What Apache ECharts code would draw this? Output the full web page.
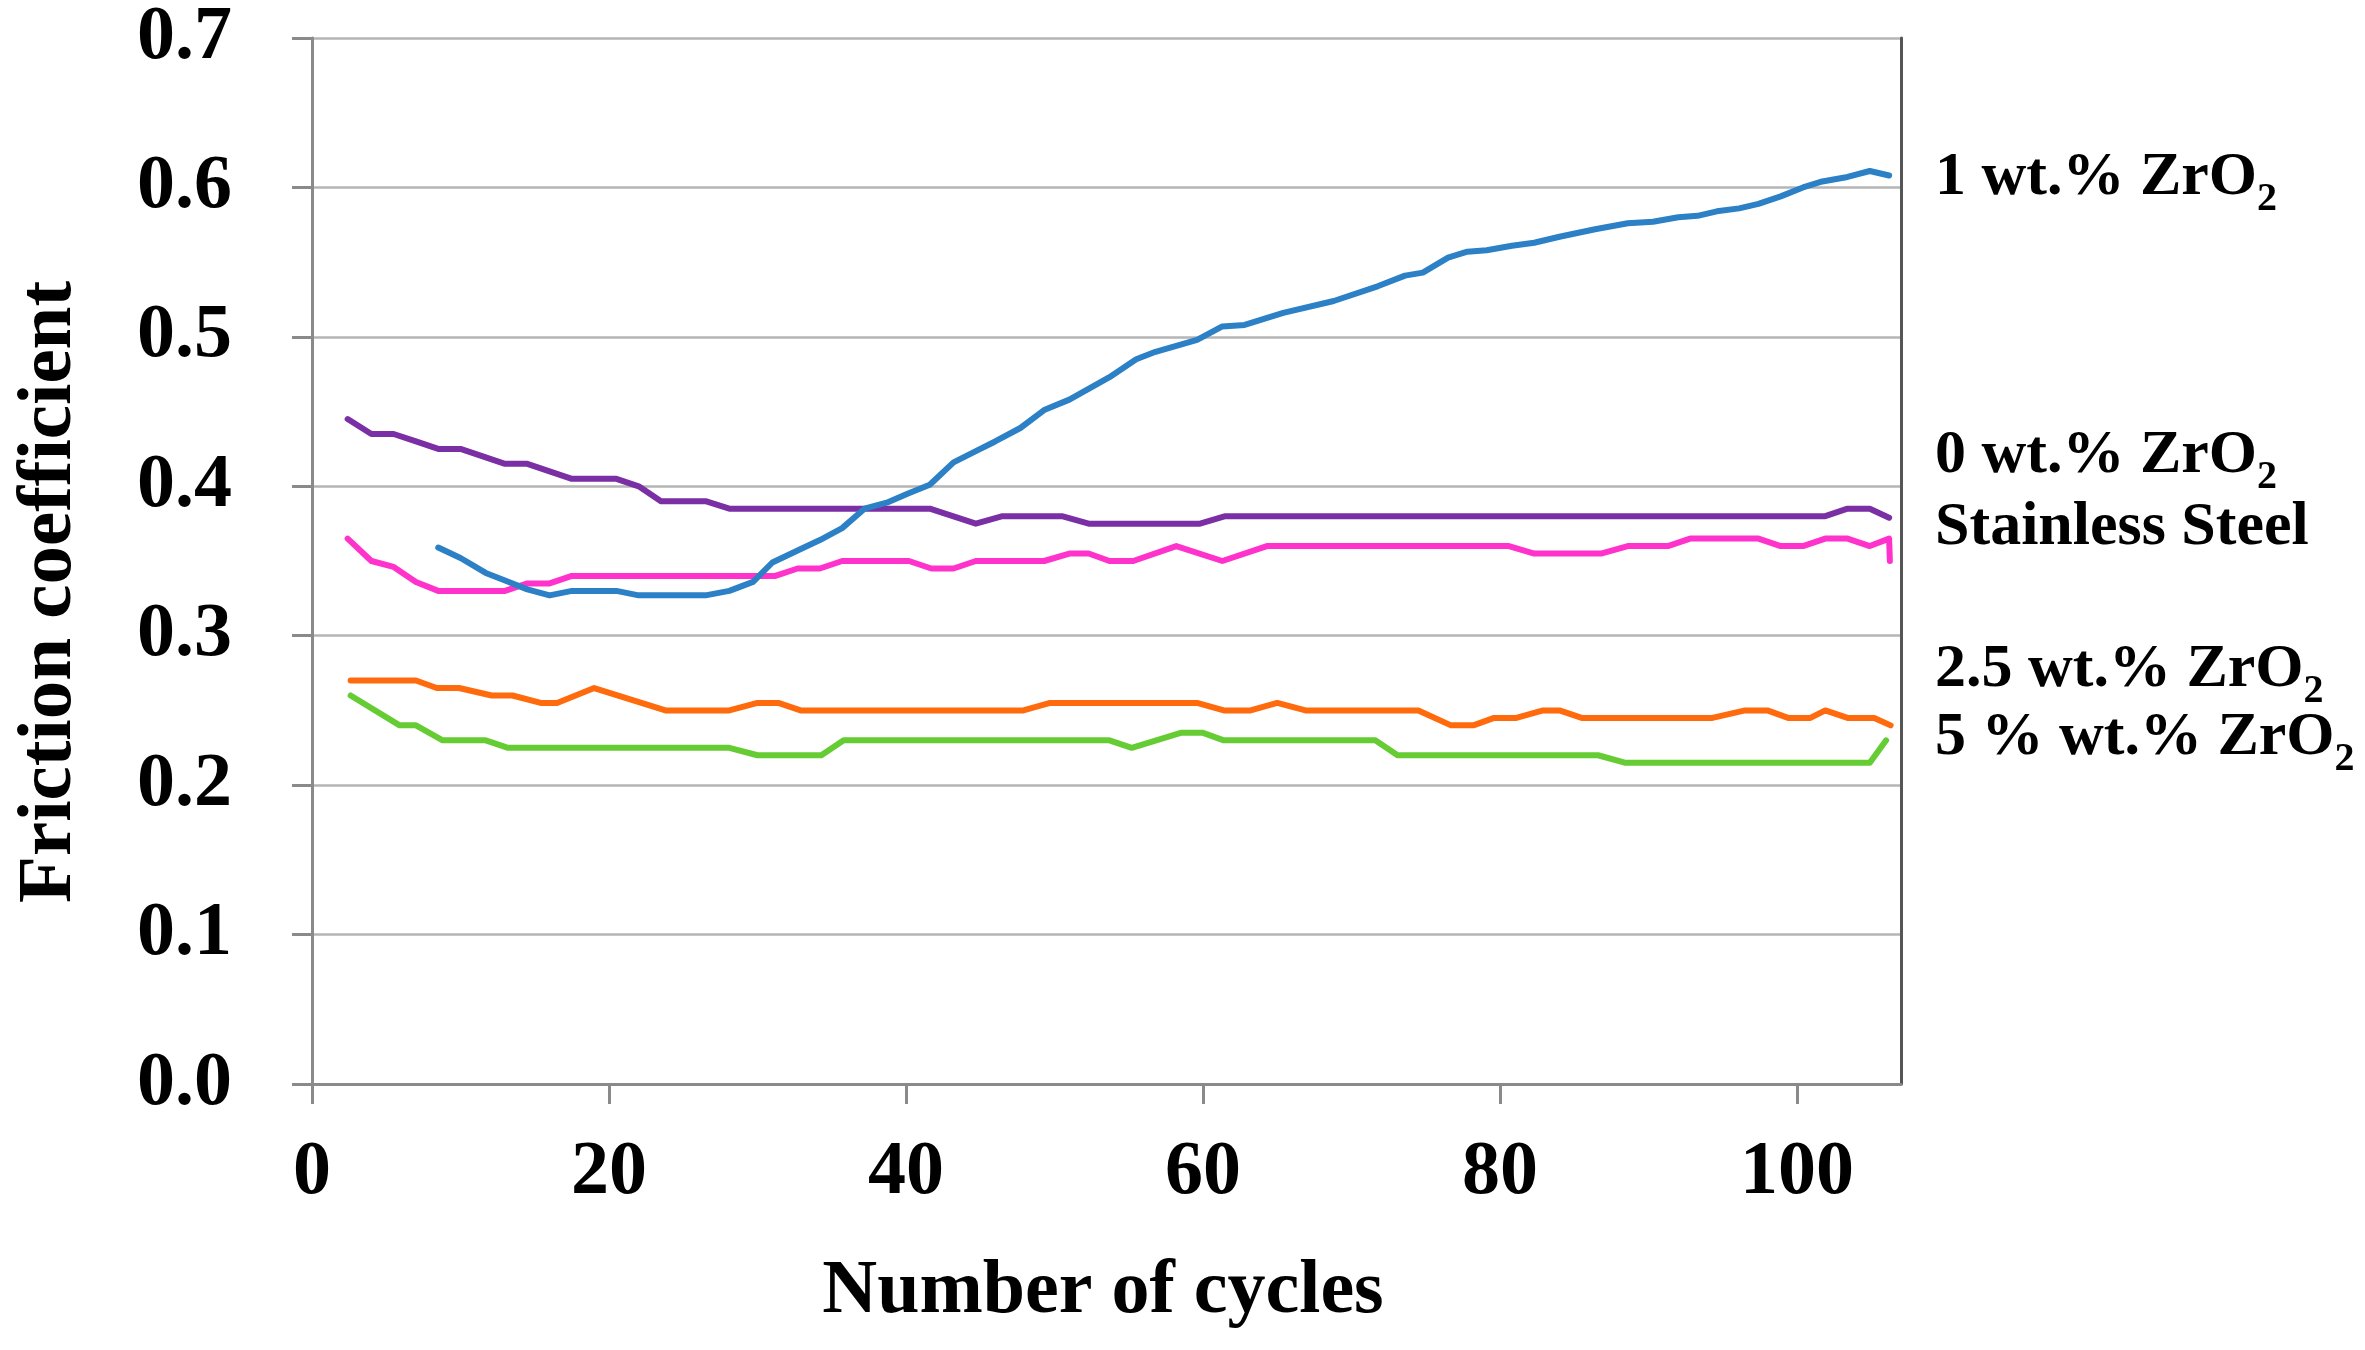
<!DOCTYPE html>
<html>
<head>
<meta charset="utf-8">
<script src="https://cdn.jsdelivr.net/npm/echarts@6/dist/echarts.min.js"></script>
<style>
html,body{margin:0;padding:0;background:#fff;}
#chart{width:2365px;height:1350px;}
</style>
</head>
<body>
<div id="chart"></div>
<script>
// ---- data (cycle, friction coefficient) ----
const xTicks = [0, 20, 40, 60, 80, 100];
const seriesNames = ['0 wt.% ZrO2', 'Stainless Steel', '2.5 wt.% ZrO2', '5 % wt.% ZrO2', '1 wt.% ZrO2'];

const zro2_0 = [[2.4,0.445],[4.0,0.435],[5.5,0.435],[7.0,0.430],[8.5,0.425],[10.0,0.425],[11.5,0.420],[13.0,0.415],[14.5,0.415],[16.0,0.410],[17.5,0.405],[20.5,0.405],[22.0,0.400],[23.5,0.390],[26.5,0.390],[28.1,0.385],[41.6,0.385],[44.7,0.375],[46.5,0.380],[50.5,0.380],[52.3,0.375],[59.8,0.375],[61.5,0.380],[101.9,0.380],[103.4,0.385],[104.9,0.385],[106.2,0.379]];

const steel = [[2.4,0.365],[4.0,0.350],[5.5,0.346],[7.0,0.336],[8.5,0.330],[13.0,0.330],[14.5,0.335],[16.0,0.335],[17.5,0.340],[31.2,0.340],[32.7,0.345],[34.2,0.345],[35.7,0.350],[40.2,0.350],[41.7,0.345],[43.2,0.345],[44.7,0.350],[49.3,0.350],[51.0,0.355],[52.3,0.355],[53.7,0.350],[55.3,0.350],[58.2,0.360],[61.3,0.350],[64.3,0.360],[80.6,0.360],[82.3,0.355],[86.8,0.355],[88.6,0.360],[91.3,0.360],[92.8,0.365],[97.4,0.365],[98.9,0.360],[100.4,0.360],[101.9,0.365],[103.4,0.365],[104.9,0.360],[106.2,0.365],[106.25,0.350]];

const zro2_25 = [[2.6,0.270],[7.0,0.270],[8.4,0.265],[9.9,0.265],[12.1,0.260],[13.5,0.260],[15.4,0.255],[16.5,0.255],[19.0,0.265],[23.8,0.250],[28.1,0.250],[30.0,0.255],[31.4,0.255],[32.9,0.250],[47.9,0.250],[49.7,0.255],[59.6,0.255],[61.4,0.250],[63.2,0.250],[65.0,0.255],[66.9,0.250],[74.5,0.250],[76.7,0.240],[78.2,0.240],[79.6,0.245],[81.1,0.245],[82.9,0.250],[84.0,0.250],[85.5,0.245],[94.3,0.245],[96.5,0.250],[98.0,0.250],[99.4,0.245],[100.9,0.245],[101.9,0.250],[103.4,0.245],[105.2,0.245],[106.3,0.240]];

const zro2_5 = [[2.6,0.260],[5.9,0.240],[7.0,0.240],[8.8,0.230],[11.7,0.230],[13.2,0.225],[28.1,0.225],[30.0,0.220],[34.3,0.220],[35.8,0.230],[53.7,0.230],[55.2,0.225],[58.5,0.235],[60.0,0.235],[61.4,0.230],[71.6,0.230],[73.1,0.220],[86.6,0.220],[88.4,0.215],[104.9,0.215],[106.0,0.230]];

const zro2_1 = [[8.5,0.359],[10.0,0.352],[11.7,0.342],[13.0,0.337],[14.5,0.331],[16.0,0.327],[17.5,0.330],[20.5,0.330],[22.0,0.327],[26.5,0.327],[28.1,0.330],[29.7,0.336],[31.0,0.349],[32.7,0.357],[34.2,0.364],[35.7,0.372],[37.2,0.385],[38.7,0.389],[40.1,0.395],[41.6,0.401],[43.2,0.416],[44.7,0.4235],[46.0,0.430],[47.7,0.439],[49.3,0.451],[51.0,0.458],[53.7,0.473],[55.5,0.485],[56.8,0.490],[59.6,0.498],[61.3,0.507],[62.8,0.508],[65.4,0.516],[68.8,0.524],[71.8,0.534],[73.6,0.541],[74.8,0.543],[76.5,0.553],[77.8,0.557],[79.1,0.558],[80.8,0.561],[82.3,0.563],[84.0,0.567],[86.4,0.572],[88.6,0.576],[90.3,0.577],[92.0,0.580],[93.3,0.581],[94.6,0.584],[96.1,0.586],[97.4,0.589],[98.9,0.594],[100.4,0.600],[101.7,0.604],[103.4,0.607],[104.9,0.611],[106.2,0.608]];

const colors = ['#7b2fa5', '#ff33cc', '#ff6a0d', '#66cc33', '#2b80c6'];
const seriesData = [zro2_0, steel, zro2_25, zro2_5, zro2_1];

const FONT = "'Liberation Serif', 'Times New Roman', serif";
const chart = echarts.init(document.getElementById('chart'));

function labelText(x, y, parts) {
  return {
    type: 'text', x: x, y: y,
    style: {
      rich: {
        n: { fontFamily: FONT, fontWeight: 'bold', fontSize: 62, lineHeight: 84, fill: '#000', verticalAlign: 'middle' },
        s: { fontFamily: FONT, fontWeight: 'bold', fontSize: 40, lineHeight: 40, fill: '#000', verticalAlign: 'bottom' }
      },
      text: parts,
      align: 'left', verticalAlign: 'middle'
    }
  };
}

chart.setOption({
  animation: false,
  backgroundColor: '#fff',
  grid: { left: 312, right: 464, top: 33, bottom: 266, containLabel: false },
  xAxis: {
    type: 'value', min: 0, max: 107,
    axisLine: { show: true, lineStyle: { color: '#8a8a8a', width: 3 } },
    axisTick: { show: true, length: 20, lineStyle: { color: '#8a8a8a', width: 3 }, customValues: xTicks },
    axisLabel: { customValues: xTicks, fontFamily: FONT, fontWeight: 'bold', fontSize: 76, color: '#000', margin: 51 },
    splitLine: { show: false }
  },
  yAxis: [{
    type: 'value', min: 0, max: 0.7, interval: 0.1,
    axisLine: { show: true, lineStyle: { color: '#8a8a8a', width: 3 } },
    axisTick: { show: true, length: 20, lineStyle: { color: '#8a8a8a', width: 3 } },
    axisLabel: { formatter: v => v.toFixed(1), fontFamily: FONT, fontWeight: 'bold', fontSize: 76, color: '#000', margin: 80 },
    splitLine: { show: true, lineStyle: { color: '#b5b5b5', width: 2.5 } }
  }, {
    type: 'value', min: 0, max: 0.7, position: 'right',
    axisLine: { show: true, lineStyle: { color: '#555', width: 3 } },
    axisTick: { show: false }, axisLabel: { show: false }, splitLine: { show: false }
  }],
  series: seriesData.map((d, i) => ({
    name: seriesNames[i],
    type: 'line',
    data: d,
    showSymbol: false,
    symbol: 'none',
    lineStyle: { color: colors[i], width: 6, join: 'round', cap: 'round' },
    itemStyle: { color: colors[i] },
    z: 2 + i
  })),
  graphic: [
    { type: 'text', x: 50, y: 592, rotation: Math.PI / 2,
      style: { text: 'Friction coefficient', fontFamily: FONT, fontWeight: 'bold', fontSize: 77, fill: '#000', align: 'center', verticalAlign: 'middle' } },
    { type: 'text', x: 1103, y: 1292,
      style: { text: 'Number of cycles', fontFamily: FONT, fontWeight: 'bold', fontSize: 76, fill: '#000', align: 'center', verticalAlign: 'middle' } },
    labelText(1935, 178, '{n|1 wt.% ZrO}{s|2}'),
    labelText(1935, 456, '{n|0 wt.% ZrO}{s|2}'),
    labelText(1935, 528, '{n|Stainless Steel}'),
    labelText(1935, 670, '{n|2.5 wt.% ZrO}{s|2}'),
    labelText(1935, 738, '{n|5 % wt.% ZrO}{s|2}')
  ]
});
</script>
</body>
</html>
